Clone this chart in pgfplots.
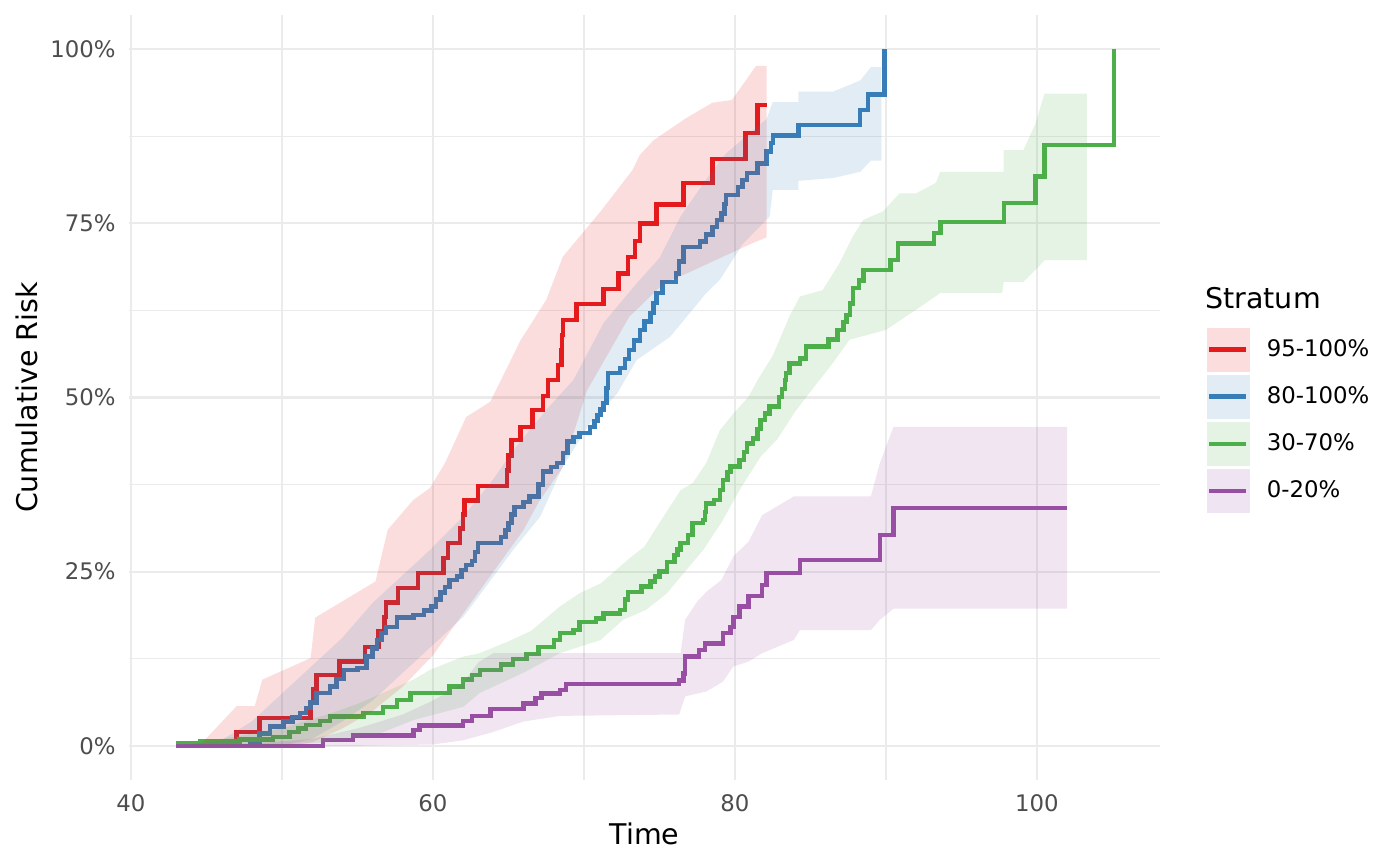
\documentclass[border=0pt]{standalone}
\usepackage{fontspec}
\setmainfont{DejaVu Sans}
\usepackage{pgfplots}
\pgfplotsset{compat=1.18}
\definecolor{cred}{HTML}{E41A1C}
\definecolor{cblue}{HTML}{377EB8}
\definecolor{cgreen}{HTML}{4DAF4A}
\definecolor{cpurple}{HTML}{984EA3}
\definecolor{gridc}{HTML}{EBEBEB}
\definecolor{tickc}{HTML}{4D4D4D}
\newcommand{\ttl}{\fontsize{14.25}{17}\selectfont}
\newcommand{\tck}{\fontsize{11.4}{13.7}\selectfont}
\begin{document}
\begin{tikzpicture}
\path[use as bounding box] (-64.5pt,-42.5pt) rectangle (635.5pt,390pt);
\begin{axis}[
  at={(0,0)}, anchor=south west,
  scale only axis, width=515.5pt, height=382.5pt,
  xmin=39.87, xmax=108.15, ymin=-4.9, ymax=104.9,
  clip=false,
  axis line style={draw=none},
  major tick length=0pt, minor tick length=0pt,
  xtick={40,60,80,100}, minor xtick={50,70,90},
  ytick={0,25,50,75,100}, minor ytick={12.5,37.5,62.5,87.5},
  yticklabels={0\%,25\%,50\%,75\%,100\%},
  xticklabels={40,60,80,100},
  grid=both,
  major grid style={draw=gridc, line width=1.1pt},
  minor grid style={draw=gridc, line width=0.55pt},
  /pgf/number format/assume math mode=true,
  tick label style={font=\tck, text=tickc, inner sep=0pt},
  xticklabel style={anchor=north, yshift=-7pt},
  yticklabel style={anchor=east, xshift=-6.5pt},
  xlabel={Time}, ylabel={Cumulative Risk},
  label style={font=\ttl, text=black, inner sep=0pt},
  xlabel style={at={(axis description cs:0.5,-0.0837)}, anchor=base},
  ylabel style={at={(axis description cs:-0.089,0.5)}, anchor=base},
  legend style={draw=none, fill=none, at={(rel axis cs:1.0456,0.5913)}, anchor=north west,
    inner sep=0pt, outer sep=0pt, row sep=1.65pt, font=\tck, text=black,
    nodes={inner sep=0pt}, cells={anchor=west},
    /tikz/every odd column/.append style={column sep=8.5pt}},
  legend cell align=left,
]
% ---------- step lines ----------
\addplot[const plot, cred, line width=2.2pt, forget plot] coordinates {
(43,0)(47.0,2.0)(48.5,4.0)(51.9,6.2)(52.1,8.2)(52.3,10.2)(53.8,12.1)(55.5,14.2)(56.4,16.4)(56.8,18.5)(56.9,20.6)(57.7,22.7)(59.0,24.8)(60.7,27.0)(61.0,29.1)(61.8,31.2)(62.0,33.2)(62.1,35.2)(63.0,37.3)(64.9,39.5)(65.0,41.7)(65.2,43.9)(65.8,45.8)(66.6,48.2)(67.3,50.2)(67.6,52.5)(68.3,54.7)(68.5,56.8)(68.55,59.0)(68.6,61.1)(69.5,63.4)(71.3,65.6)(72.3,67.8)(72.9,70.2)(73.4,72.5)(73.7,75.0)(74.8,77.7)(76.6,80.8)(78.5,84.2)(80.7,88.0)(81.5,92.0)(82.1,92.0)};
\addplot[const plot, cblue, line width=2.2pt, forget plot] coordinates {
(43,0)(47.9,0.6)(48.5,1.8)(49.2,2.8)(50.1,3.5)(50.7,4.1)(51.2,4.7)(51.6,5.4)(51.9,6.2)(52.3,7.6)(53.2,8.5)(53.6,9.6)(54.1,10.9)(55.0,11.2)(55.6,12.8)(56.0,14.0)(56.3,15.2)(56.6,16.2)(56.9,17.1)(57.6,18.4)(58.7,18.8)(59.4,19.4)(59.9,20.0)(60.2,21.0)(60.5,22.0)(60.8,22.8)(61.1,23.8)(61.6,24.3)(61.9,25.2)(62.2,26.0)(62.6,26.5)(62.8,27.8)(63.0,29.1)(64.5,30.0)(64.8,31.0)(65.0,32.0)(65.2,33.2)(65.4,34.3)(66.0,35.0)(66.4,35.8)(67.0,37.5)(67.3,39.4)(67.8,40.0)(68.2,40.6)(68.6,42.0)(68.9,43.7)(69.3,44.3)(69.7,44.9)(70.4,45.8)(70.7,46.6)(70.9,47.5)(71.1,48.3)(71.3,49.2)(71.5,51.4)(71.6,53.5)(72.4,54.2)(72.7,55.5)(73.0,56.8)(73.3,58.2)(73.7,59.7)(74.0,60.9)(74.4,62.1)(74.6,63.6)(74.8,65.0)(75.2,66.6)(76.1,67.8)(76.3,69.5)(76.6,71.6)(77.7,72.4)(78.1,73.4)(78.5,74.5)(78.8,75.5)(79.1,76.4)(79.3,77.8)(79.4,79.1)(80.2,80.2)(80.5,81.2)(80.8,82.2)(81.5,83.6)(82.1,85.3)(82.4,86.5)(82.5,87.6)(84.2,89.1)(88.3,91.3)(88.8,93.5)(89.9,100)};
\addplot[const plot, cgreen, line width=2.2pt, forget plot] coordinates {
(43,0.4)(44.6,0.6)(47.2,0.9)(49.4,1.3)(50.5,2.0)(51.1,2.5)(51.6,3.0)(52.5,3.6)(53.2,4.2)(55.4,4.7)(56.7,5.6)(57.6,6.6)(58.5,7.6)(61.1,8.5)(62.0,9.5)(62.6,10.2)(63.1,10.9)(64.5,11.7)(65.3,12.5)(66.2,13.2)(67.0,14.2)(68.0,15.2)(68.4,16.2)(69.3,16.6)(69.7,17.8)(70.8,18.3)(71.3,19.0)(72.4,19.5)(72.7,21.0)(72.9,22.1)(73.8,22.9)(74.4,23.6)(74.7,24.3)(75.0,25.0)(75.5,26.4)(76.0,27.4)(76.2,28.2)(76.4,29.1)(76.9,30.3)(77.2,32.0)(77.9,32.4)(78.0,33.6)(78.1,34.8)(78.6,35.3)(79.0,36.7)(79.2,38.2)(79.5,39.3)(79.7,40.1)(80.3,41.0)(80.6,42.2)(80.8,43.4)(81.2,44.1)(81.5,45.5)(81.7,46.8)(82.0,47.7)(82.3,48.7)(82.9,50.1)(83.1,51.2)(83.3,52.5)(83.4,53.5)(83.6,54.9)(84.3,55.6)(84.7,57.3)(86.2,58.3)(86.8,59.7)(87.2,60.8)(87.4,61.8)(87.6,63.5)(87.8,65.7)(88.2,66.8)(88.5,68.3)(90.3,69.7)(90.8,72.1)(93.2,73.6)(93.6,75.2)(97.8,77.9)(99.9,81.7)(100.5,86.2)(105.1,100)};
\addplot[const plot, cpurple, line width=2.2pt, forget plot] coordinates {
(43,0)(52.7,0.8)(54.7,1.5)(58.7,2.3)(59.1,2.9)(62.0,3.6)(62.6,4.3)(63.8,5.3)(66.0,6.1)(66.8,6.9)(67.2,7.5)(68.4,8.0)(68.8,8.9)(76.3,9.4)(76.6,10.4)(76.7,12.8)(77.6,13.8)(78.0,14.7)(79.2,16.2)(79.7,17.1)(79.9,18.5)(80.3,20.0)(80.9,21.5)(81.8,23.1)(82.1,24.8)(84.3,26.7)(89.6,30.3)(90.5,34.1)(102.0,34.1)};
% ---------- ribbons ----------
\addplot[fill=cred, fill opacity=0.15, draw=none, forget plot] coordinates {
(43,0)(44.7,0.4)(47.0,5.7)(48.2,5.7)(48.7,9.5)(51.9,12.6)(52.2,18.4)(56.2,23.6)(57.0,31.0)(58.7,35.3)(59.8,37.0)(60.8,40.6)(62.2,47.2)(63.8,49.4)(65.8,58.2)(67.5,64.0)(68.6,70.2)(71.1,76.7)(73.2,82.6)(73.7,84.8)(74.6,86.9)(76.7,90.0)(78.5,92.3)(79.8,92.7)(81.4,97.6)(82.1,97.6)
(82.1,73)(81,72)(79,70)(77,68)(75.3,66.4)(73,61.6)(72,57.8)(70.2,51)(68.6,40)(67,35)(66,31)(65,28)(63,22)(62,19)(60,13)(58,8.5)(56,5)(54,2.5)(52,0.5)(50,0)(43,0)};
\addplot[fill=cblue, fill opacity=0.15, draw=none, forget plot] coordinates {
(43,0)(46,0.8)(48,3.5)(50,7.5)(52,11.5)(54,15.5)(56,20.5)(58,24.5)(59.8,28.1)(62,32.9)(63.8,37.7)(65.5,42.9)(67.5,48.2)(69.3,52.5)(71.3,60.7)(73.5,66.4)(75,70)(76.4,76)(78,81)(79.4,85)(82.1,90)(82.5,92.4)(84.2,92.4)(84.2,93.9)(86.5,93.9)(88.3,95.5)(89,97.4)(89.7,97.4)
(89.7,84)(89,84)(88.3,82.4)(86.5,81.5)(84.2,81.1)(84.2,79.8)(82.5,79.8)(82.3,76)(80.5,72)(79,66.9)(78.1,65)(75.7,58.7)(73.5,55.4)(72.2,50.6)(70.4,46.3)(68.6,40.1)(67.1,32.9)(65.3,28.1)(62.7,20.5)(62,18.5)(60,14.5)(58,10.5)(56,6.5)(54,3.5)(52,1)(50,0)(43,0)};
\addplot[fill=cgreen, fill opacity=0.15, draw=none, forget plot] coordinates {
(43,0.5)(46,1)(50,2.5)(53,4.5)(55,6)(56.9,7.8)(58.7,9.5)(59.8,10.9)(62,12.8)(63.1,13.3)(65,15)(66.5,16.5)(68.4,20)(69.7,21.9)(71.1,23.3)(72.9,26.7)(74,28.6)(75,32)(76.4,36.7)(77.2,37.7)(78.1,40.6)(79,45.3)(79.9,47.7)(80.9,50.1)(81.5,52.5)(82.5,56)(83.6,61.6)(84.3,64.5)(85.8,65.4)(86.9,69.2)(87.8,73.1)(88.5,75.5)(89.8,76.7)(90.9,79.3)(92,79.3)(93.3,80.8)(93.6,82.4)(97.8,82.4)(97.8,85.5)(99.1,85.5)(99.9,89.3)(100.5,93.6)(103.3,93.6)
(103.3,69.7)(100.5,69.7)(99.9,68.3)(99.1,66.6)(97.8,66.6)(97.7,65)(93.6,65)(92,62.6)(90,59.7)(87.6,58.3)(86.5,55)(84.7,50)(84,48)(82.8,44)(81.7,41.5)(80.3,36.7)(79.2,32.4)(77.9,28.1)(76.8,25.3)(75.5,21.9)(74.1,19.5)(72.6,18.1)(71.1,15.2)(68.4,13.3)(66,10.5)(63.1,7.6)(62,5.6)(58.7,3.7)(56.5,1.8)(53,0.5)(50,0.1)(43,0)};
\addplot[fill=cpurple, fill opacity=0.15, draw=none, forget plot] coordinates {
(43,0)(48,0.3)(52,1)(55,2.5)(58,4.5)(60,6.5)(62,9)(63,12)(64,13.3)(76.4,13.3)(76.7,18.1)(77.5,20.7)(78.1,22.1)(79.1,23.8)(79.9,27.2)(80.9,29.3)(81.8,33.1)(83.9,35.8)(89,35.8)(89.6,40.6)(90.5,45.8)(102,45.8)
(102,19.7)(90.5,19.7)(89.6,18.1)(89,16.6)(84.3,16.6)(83.9,15.2)(81.8,13.3)(80.9,12.1)(79.9,11.4)(79.2,9.2)(78.1,7.8)(76.7,7.1)(76.3,4.5)(68.4,4.3)(66,3.5)(64,2)(62,0.8)(60,0.2)(55,0)(43,0)};
% ---------- legend ----------
\addlegendimage{legend image code/.code={
  \fill[cred!15] (0pt,-10.75pt) rectangle (21pt,10.75pt);
  \draw[cred, line width=2.2pt] (1pt,0pt) -- (19.5pt,0pt);}}
\addlegendentry{95-100\%}
\addlegendimage{legend image code/.code={
  \fill[cblue!15] (0pt,-10.75pt) rectangle (21pt,10.75pt);
  \draw[cblue, line width=2.2pt] (1pt,0pt) -- (19.5pt,0pt);}}
\addlegendentry{80-100\%}
\addlegendimage{legend image code/.code={
  \fill[cgreen!15] (0pt,-10.75pt) rectangle (21pt,10.75pt);
  \draw[cgreen, line width=2.2pt] (1pt,0pt) -- (19.5pt,0pt);}}
\addlegendentry{30-70\%}
\addlegendimage{legend image code/.code={
  \fill[cpurple!15] (0pt,-10.75pt) rectangle (21pt,10.75pt);
  \draw[cpurple, line width=2.2pt] (1pt,0pt) -- (19.5pt,0pt);}}
\addlegendentry{0-20\%}
\node[anchor=base west, inner sep=0pt, font=\ttl] at (rel axis cs:1.0436,0.6157) {Stratum};
\end{axis}
\end{tikzpicture}
\end{document}
